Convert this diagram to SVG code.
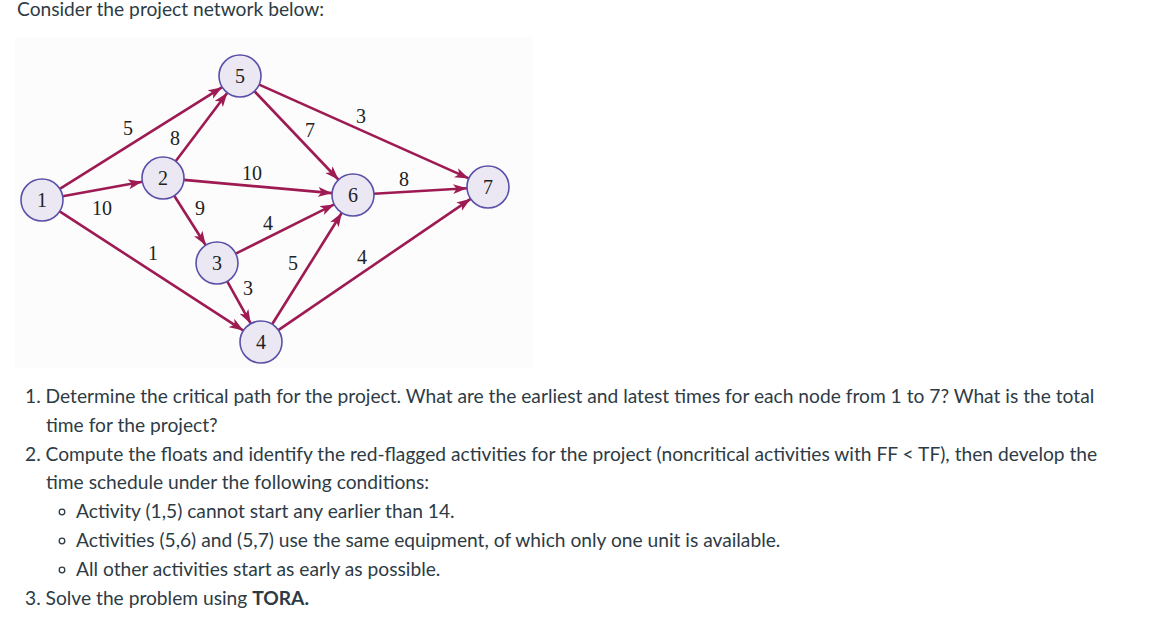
<svg xmlns="http://www.w3.org/2000/svg" width="1157" height="634" viewBox="0 0 1157 634">
<defs>
<style>
.txt{font-family:Lato,"Liberation Sans",sans-serif;font-size:19.2px;fill:#2d3b45}
.b{font-weight:bold}
.edge{stroke:#9e1a52;stroke-width:2.6;fill:none;marker-end:url(#ah)}
.node circle{fill:#ebe8f3;stroke:#5a50a8;stroke-width:1.6}
.num{font-family:"Liberation Serif","DejaVu Serif",serif;font-size:20px;fill:#222;text-anchor:middle}
.bul{fill:none;stroke:#2d3b45;stroke-width:1.3}
</style>
<marker id="ah" markerUnits="userSpaceOnUse" markerWidth="15" markerHeight="11" refX="14" refY="5" orient="auto">
<path d="M0,0 L14,5 L0,10 L3.5,5 z" fill="#9e1a52"/>
</marker>
</defs>
<rect width="1157" height="634" fill="#ffffff"/>
<text class="txt" x="17" y="16">Consider the project network below:</text>
<rect x="15" y="37" width="518" height="331" fill="#fcfcfc"/>
<g id="connectors">
<line class="edge" x1="59.8" y1="188.85" x2="222.2" y2="87.15"/>
<line class="edge" x1="62.66" y1="196.24" x2="142.34" y2="181.76"/>
<line class="edge" x1="59.62" y1="211.43" x2="243.38" y2="330.57"/>
<line class="edge" x1="175.65" y1="161.24" x2="227.35" y2="92.76"/>
<line class="edge" x1="183.92" y1="179.87" x2="332.08" y2="193.13"/>
<line class="edge" x1="174.26" y1="195.73" x2="205.74" y2="245.27"/>
<line class="edge" x1="254.46" y1="91.23" x2="338.54" y2="179.77"/>
<line class="edge" x1="259.17" y1="84.58" x2="468.83" y2="178.42"/>
<line class="edge" x1="235.78" y1="253.61" x2="334.22" y2="204.39"/>
<line class="edge" x1="227.22" y1="281.35" x2="250.78" y2="323.65"/>
<line class="edge" x1="272.14" y1="324.2" x2="341.86" y2="212.8"/>
<line class="edge" x1="278.34" y1="330.16" x2="470.66" y2="198.84"/>
<line class="edge" x1="373.96" y1="193.76" x2="467.04" y2="188.24"/>
</g>
<g id="edge-labels">
<text class="num" x="128" y="135">5</text>
<text class="num" x="175" y="145">8</text>
<text class="num" x="102" y="215">10</text>
<text class="num" x="252" y="180">10</text>
<text class="num" x="200" y="215">9</text>
<text class="num" x="310" y="137">7</text>
<text class="num" x="361" y="123">3</text>
<text class="num" x="404" y="186">8</text>
<text class="num" x="268" y="230">4</text>
<text class="num" x="153" y="260">1</text>
<text class="num" x="293" y="270">5</text>
<text class="num" x="362" y="264">4</text>
<text class="num" x="248" y="295">3</text>
</g>
<g id="node1" class="node"><circle cx="42" cy="200" r="21"/><text class="num" x="42" y="207">1</text></g>
<g id="node2" class="node"><circle cx="163" cy="178" r="21"/><text class="num" x="163" y="185">2</text></g>
<g id="node3" class="node"><circle cx="217" cy="263" r="21"/><text class="num" x="217" y="270">3</text></g>
<g id="node4" class="node"><circle cx="261" cy="342" r="21"/><text class="num" x="261" y="349">4</text></g>
<g id="node5" class="node"><circle cx="240" cy="76" r="21"/><text class="num" x="240" y="83">5</text></g>
<g id="node6" class="node"><circle cx="353" cy="195" r="21"/><text class="num" x="353" y="202">6</text></g>
<g id="node7" class="node"><circle cx="488" cy="187" r="21"/><text class="num" x="488" y="194">7</text></g>
<g id="questions">
<text class="txt" x="25" y="403">1. Determine the critical path for the project. What are the earliest and latest times for each node from 1 to 7? What is the total</text>
<text class="txt" x="46" y="432">time for the project?</text>
<text class="txt" x="25" y="461">2. Compute the floats and identify the red-flagged activities for the project (noncritical activities with FF &lt; TF), then develop the</text>
<text class="txt" x="46" y="489">time schedule under the following conditions:</text>
<circle class="bul" cx="62" cy="512" r="2.8"/>
<text class="txt" x="76" y="518">Activity (1,5) cannot start any earlier than 14.</text>
<circle class="bul" cx="62" cy="541" r="2.8"/>
<text class="txt" x="76" y="547">Activities (5,6) and (5,7) use the same equipment, of which only one unit is available.</text>
<circle class="bul" cx="62" cy="570" r="2.8"/>
<text class="txt" x="76" y="576">All other activities start as early as possible.</text>
<text class="txt" x="25" y="605">3. Solve the problem using <tspan class="b">TORA.</tspan></text>
</g>
</svg>
